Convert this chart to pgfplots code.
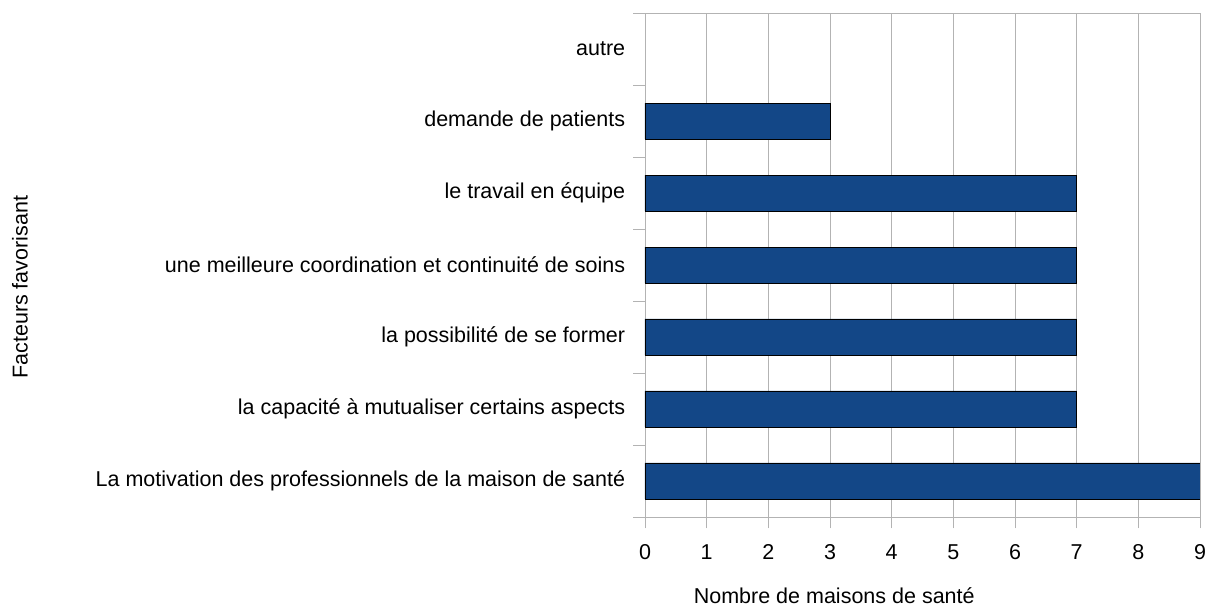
\documentclass[border=0pt]{standalone}
\usepackage{pgfplots}
\pgfplotsset{compat=1.18}
\usepackage{fontspec}
\setmainfont{Liberation Sans}
\definecolor{barblue}{RGB}{19,71,135}
\definecolor{gridgray}{RGB}{179,179,179}
\newcommand{\chfont}{\fontsize{21.5pt}{25pt}\selectfont}
\begin{document}
\chfont
\begin{tikzpicture}
\path[use as bounding box] (-645pt,-98pt) rectangle (563pt,517pt);
\begin{axis}[
  at={(0,0)}, anchor=south west,
  scale only axis,
  width=555pt, height=504pt,
  xmin=0, xmax=9, ymin=-0.5, ymax=6.5,
  xbar, bar width=36pt,
  xtick={0,...,9},
  ytick={0,...,6},
  yticklabels={La motivation des professionnels de la maison de santé,
    la capacité à mutualiser certains aspects,
    la possibilité de se former,
    une meilleure coordination et continuité de soins,
    le travail en équipe,
    demande de patients,
    autre},
  xmajorgrids, major grid style={gridgray, line width=0.8pt},
  axis line style={gridgray, line width=0.8pt},
  tick style={gridgray, line width=0.8pt},
  major tick length=11.5pt,
  tick align=outside,
  xtick pos=bottom,
  ytick pos=left,
  ytick style={draw=none},
  extra y ticks={-0.5,0.5,1.5,2.5,3.5,4.5,5.5,6.5},
  extra y tick labels={},
  extra y tick style={ytick style={draw=gridgray}, grid=none},
  yticklabel style={xshift=-1pt, font=\chfont},
  xticklabel style={yshift=-9pt, font=\chfont},
  /pgf/number format/assume math mode=true,
  xlabel={Nombre de maisons de santé},
  ylabel={Facteurs favorisant},
  xlabel style={at={(axis description cs:0.341,-0.157)}, anchor=center, font=\chfont},
  ylabel style={at={(axis description cs:-1.126,0.456)}, anchor=center, font=\chfont},
]
\addplot[fill=barblue, draw=black, line width=0.8pt] coordinates {
  (9,0) (7,1) (7,2) (7,3) (7,4) (3,5)
};
\end{axis}
\end{tikzpicture}
\end{document}
